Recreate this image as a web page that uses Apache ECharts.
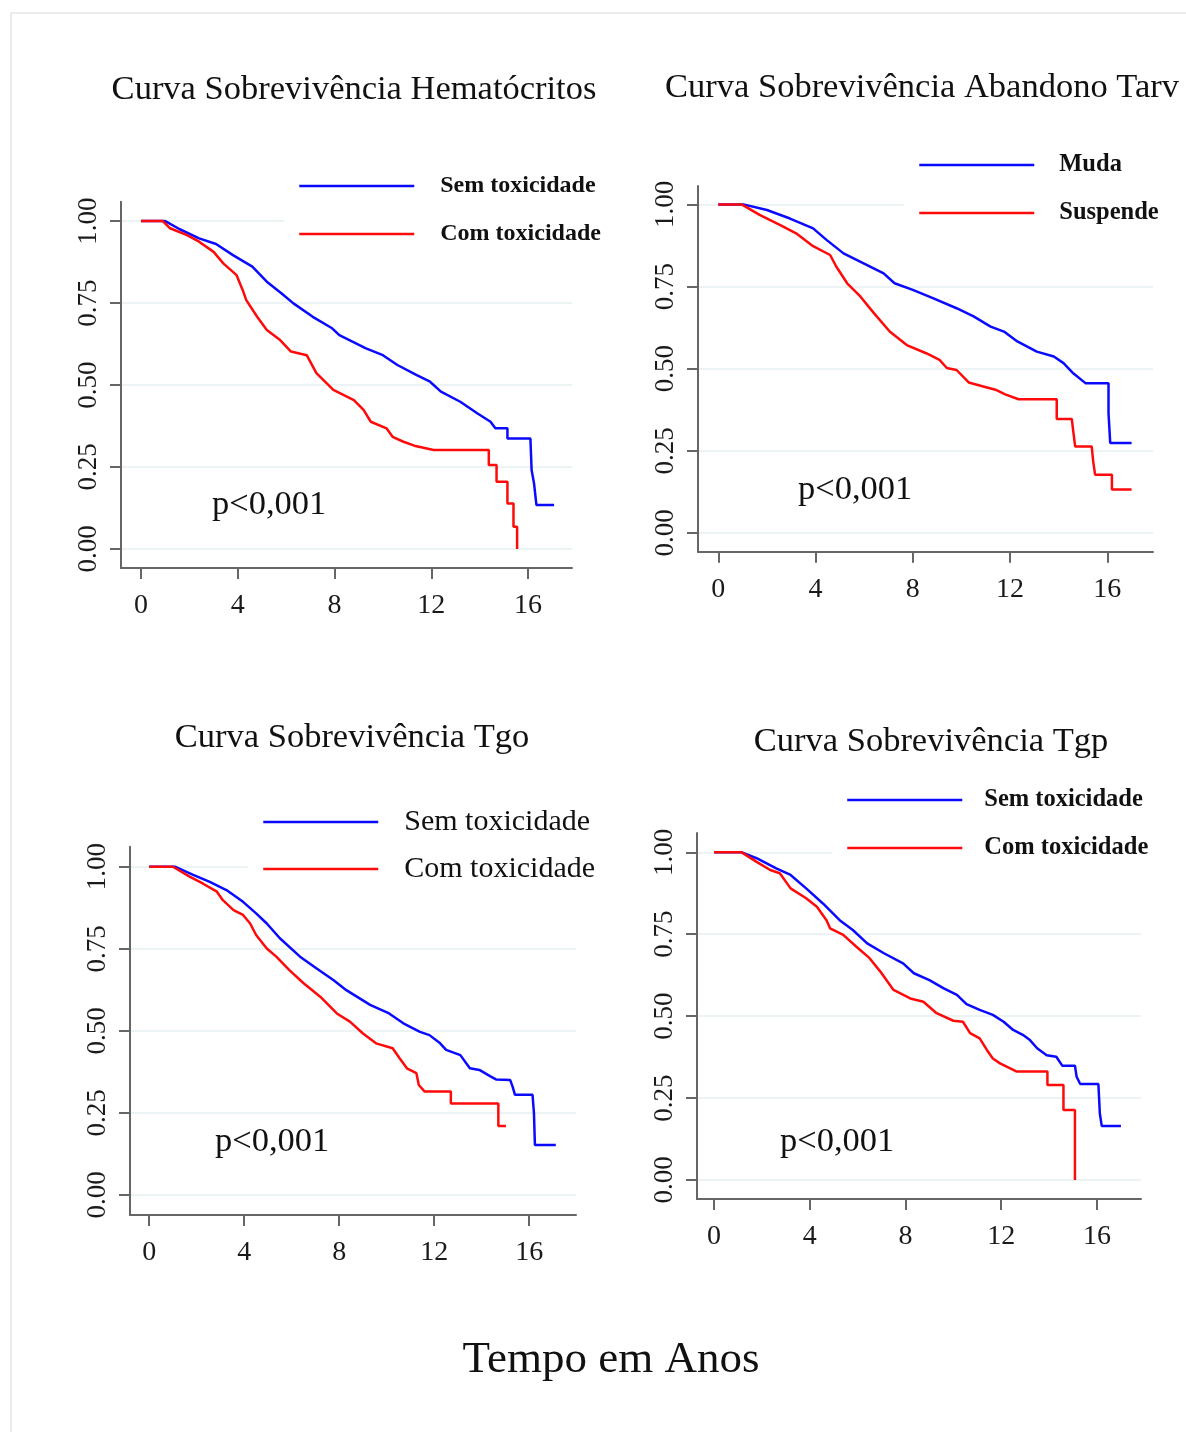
<!DOCTYPE html>
<html><head><meta charset="utf-8">
<script src="https://cdn.jsdelivr.net/npm/echarts@6/dist/echarts.min.js"></script>
<style>html,body{margin:0;padding:0;background:#fff}#c{width:1186px;height:1432px}</style>
</head><body><div id="c"></div>
<script>
// ---------- data ----------
const xTicks = [0, 4, 8, 12, 16];
const yTicks = [0, 0.25, 0.5, 0.75, 1];
const panelTitles = ['Curva Sobrevivência Hematócritos', 'Curva Sobrevivência Abandono Tarv', 'Curva Sobrevivência Tgo', 'Curva Sobrevivência Tgp'];
const legendNames = [['Sem toxicidade', 'Com toxicidade'], ['Muda', 'Suspende'], ['Sem toxicidade', 'Com toxicidade'], ['Sem toxicidade', 'Com toxicidade']];
const pValueText = 'p<0,001';
const xAxisTitle = 'Tempo em Anos';

// [years, survival]
const hematocritosSem = [[0,1],[1.0,1],[1.6,0.975],[2.4,0.947],[3.1,0.93],[3.8,0.896],[4.6,0.861],[5.2,0.815],[5.8,0.78],[6.3,0.749],[7.1,0.708],[7.9,0.673],[8.2,0.652],[9.3,0.612],[10.0,0.591],[10.6,0.561],[11.4,0.53],[11.95,0.51],[12.4,0.48],[13.2,0.449],[13.9,0.414],[14.45,0.388],[14.65,0.368],[15.15,0.368],[15.15,0.337],[16.1,0.337],[16.15,0.241],[16.25,0.2],[16.35,0.134],[17.08,0.134]];
const hematocritosCom = [[0,1],[0.9,1],[1.2,0.978],[1.9,0.957],[2.4,0.937],[3.0,0.906],[3.4,0.871],[3.95,0.835],[4.2,0.79],[4.35,0.759],[4.8,0.708],[5.2,0.668],[5.75,0.637],[6.2,0.602],[6.85,0.591],[7.25,0.536],[7.95,0.485],[8.8,0.454],[9.2,0.424],[9.5,0.388],[10.15,0.368],[10.4,0.342],[10.85,0.327],[11.3,0.315],[12.1,0.302],[14.38,0.302],[14.38,0.256],[14.7,0.256],[14.7,0.205],[15.15,0.205],[15.15,0.139],[15.4,0.139],[15.4,0.068],[15.55,0.068],[15.55,0]];
const abandonoMuda = [[0,1],[1.03,1],[2.0,0.983],[2.95,0.957],[3.9,0.927],[4.45,0.892],[5.15,0.851],[6.1,0.816],[6.8,0.79],[7.25,0.76],[8.0,0.74],[8.85,0.714],[9.8,0.684],[10.5,0.659],[11.2,0.628],[11.75,0.613],[12.3,0.583],[13.1,0.552],[13.8,0.537],[14.2,0.517],[14.6,0.486],[15.1,0.456],[16.05,0.456],[16.05,0.365],[16.12,0.274],[17.0,0.274]];
const abandonoSuspende = [[0,1],[0.96,1],[1.7,0.968],[2.55,0.937],[3.2,0.912],[3.9,0.873],[4.6,0.846],[4.85,0.811],[5.3,0.76],[5.85,0.719],[6.4,0.669],[7.05,0.613],[7.75,0.572],[8.55,0.547],[9.1,0.527],[9.4,0.502],[9.8,0.496],[10.3,0.458],[10.9,0.446],[11.4,0.436],[11.8,0.422],[12.35,0.407],[13.92,0.407],[13.92,0.347],[14.54,0.347],[14.6,0.309],[14.68,0.263],[15.36,0.263],[15.42,0.218],[15.5,0.177],[16.19,0.177],[16.19,0.132],[17.0,0.132]];
const tgoSem = [[0,1],[1.08,1],[1.85,0.975],[2.55,0.954],[3.25,0.929],[3.95,0.893],[4.5,0.858],[4.95,0.827],[5.5,0.782],[6.35,0.726],[7.05,0.69],[7.75,0.655],[8.3,0.624],[9.3,0.579],[10.1,0.553],[10.7,0.523],[11.4,0.497],[11.8,0.487],[12.25,0.462],[12.5,0.442],[13.1,0.426],[13.5,0.386],[13.9,0.381],[14.35,0.362],[14.6,0.352],[15.2,0.35],[15.3,0.33],[15.4,0.305],[16.14,0.305],[16.2,0.249],[16.24,0.152],[17.12,0.152]];
const tgoCom = [[0,1],[1.0,1],[1.7,0.97],[2.25,0.949],[2.85,0.924],[3.1,0.898],[3.55,0.868],[3.95,0.853],[4.25,0.827],[4.5,0.792],[4.95,0.751],[5.35,0.726],[5.9,0.685],[6.5,0.645],[7.2,0.604],[7.9,0.553],[8.45,0.528],[9.0,0.492],[9.55,0.462],[10.25,0.447],[10.55,0.416],[10.85,0.386],[11.25,0.371],[11.35,0.335],[11.6,0.315],[12.7,0.315],[12.7,0.279],[14.7,0.279],[14.7,0.21],[15.02,0.21]];
const tgpSem = [[0,1],[1.16,1],[1.78,0.982],[2.6,0.951],[3.2,0.931],[3.85,0.89],[4.55,0.844],[5.25,0.793],[5.8,0.763],[6.4,0.722],[7.1,0.692],[7.9,0.661],[8.35,0.631],[9.0,0.61],[9.6,0.585],[10.15,0.565],[10.55,0.537],[11.1,0.519],[11.65,0.504],[12.1,0.483],[12.5,0.458],[12.9,0.443],[13.2,0.427],[13.5,0.402],[13.9,0.381],[14.3,0.376],[14.55,0.349],[15.08,0.349],[15.15,0.315],[15.3,0.293],[16.06,0.293],[16.12,0.203],[16.2,0.165],[17.0,0.165]];
const tgpCom = [[0,1],[1.16,1],[1.78,0.971],[2.35,0.946],[2.75,0.936],[3.2,0.89],[3.85,0.86],[4.3,0.834],[4.7,0.793],[4.85,0.768],[5.4,0.748],[5.95,0.712],[6.5,0.677],[6.95,0.636],[7.5,0.58],[8.2,0.554],[8.75,0.544],[9.3,0.509],[10.0,0.486],[10.4,0.483],[10.7,0.448],[11.1,0.432],[11.4,0.397],[11.65,0.371],[11.95,0.356],[12.65,0.331],[13.93,0.331],[13.93,0.29],[14.6,0.29],[14.6,0.214],[15.08,0.214],[15.08,0]];

const panelSeries = [[hematocritosSem, hematocritosCom], [abandonoMuda, abandonoSuspende], [tgoSem, tgoCom], [tgpSem, tgpCom]];

// ---------- layout / style ----------
const SERIF = "'Liberation Serif', 'Times New Roman', serif";
const BLUE = '#0a0aff', RED = '#ff0a0a';
const layout = [
  {x0:121, top:201.7, bottom:568, right:572, xmin:-0.83, xmax:17.82, ymin:-0.058, ymax:1.059,
   title:[354, 90], p:[212, 505], leg:{left:284, top:166, gap:18, fs:24, bold:true, pad:21}},
  {x0:698, top:186, bottom:551.7, right:1153, xmin:-0.835, xmax:17.88, ymin:-0.057, ymax:1.056,
   title:[922, 88], p:[798, 490], leg:{left:904, top:145, gap:18, fs:24.5, bold:true, pad:20}},
  {x0:130, top:846.7, bottom:1215, right:576, xmin:-0.81, xmax:17.97, ymin:-0.061, ymax:1.061,
   title:[352, 738], p:[215, 1142], leg:{left:248, top:802, gap:17, fs:30, bold:false, pad:21}},
  {x0:697, top:833, bottom:1199, right:1141, xmin:-0.71, xmax:17.84, ymin:-0.058, ymax:1.059,
   title:[931, 742], p:[780, 1142], leg:{left:832, top:780, gap:18, fs:24.5, bold:true, pad:17}}
];

const axisLineStyle = {color:'#666', width:2};
const grid = [], xAxis = [], yAxis = [], series = [], legend = [], graphic = [];

graphic.push({type:'rect', shape:{x:11, y:13, width:1190, height:1440}, style:{fill:'none', stroke:'#ececec', lineWidth:2}, z:0});

layout.forEach((L, i) => {
  grid.push({left:L.x0, top:L.top, width:L.right - L.x0, height:L.bottom - L.top, containLabel:false, outerBoundsMode:'none'});
  xAxis.push({type:'value', gridIndex:i, min:L.xmin, max:L.xmax,
    axisLine:{show:true, onZero:false, lineStyle:axisLineStyle},
    axisTick:{show:true, length:11, customValues:xTicks, lineStyle:axisLineStyle},
    axisLabel:{customValues:xTicks, margin:24, fontSize:28, fontFamily:SERIF, color:'#1a1a1a'},
    splitLine:{show:false}});
  yAxis.push({type:'value', gridIndex:i, min:L.ymin, max:L.ymax,
    axisLine:{show:true, onZero:false, lineStyle:axisLineStyle},
    axisTick:{show:true, length:11, customValues:yTicks, lineStyle:axisLineStyle},
    axisLabel:{customValues:yTicks, rotate:90, margin:19, fontSize:27, fontFamily:SERIF, color:'#1a1a1a',
      formatter: v => v.toFixed(2)},
    splitLine:{show:true, lineStyle:{color:'#e6eff0', width:1.5}}});
  const names = legendNames[i];
  [BLUE, RED].forEach((c, k) => {
    series.push({type:'line', name:names[k], xAxisIndex:i, yAxisIndex:i, data:panelSeries[i][k],
      symbol:'none', showSymbol:false, animation:false, z:3 + k,
      lineStyle:{color:c, width:2.5}, itemStyle:{color:c}});
  });
  legend.push({orient:'vertical', left:L.leg.left, top:L.leg.top, data:names,
    itemWidth:115, itemHeight:14, itemGap:L.leg.gap, padding:[5, 10, 5, 14],
    backgroundColor:'#fff', selectedMode:false,
    itemStyle:{opacity:0}, lineStyle:{width:2.5},
    textStyle:{fontFamily:SERIF, fontSize:L.leg.fs, fontWeight:L.leg.bold ? 'bold' : 'normal', color:'#111', lineHeight:30, padding:[0, 0, 0, L.leg.pad]}});
  graphic.push({type:'text', x:L.title[0], y:L.title[1], z:10,
    style:{text:panelTitles[i], font:'34.5px ' + SERIF, fill:'#111', align:'center', verticalAlign:'middle', textAlign:'center', textVerticalAlign:'middle'}});
  graphic.push({type:'text', x:L.p[0], y:L.p[1], z:10,
    style:{text:pValueText, font:'34.5px ' + SERIF, fill:'#111', align:'left', verticalAlign:'middle', textAlign:'left', textVerticalAlign:'middle'}});
});

graphic.push({type:'text', x:611, y:1360, z:10,
  style:{text:xAxisTitle, font:'45px ' + SERIF, fill:'#111', align:'center', verticalAlign:'middle', textAlign:'center', textVerticalAlign:'middle'}});

const chart = echarts.init(document.getElementById('c'), null, {renderer:'canvas'});
chart.setOption({backgroundColor:'#fff', animation:false, grid, xAxis, yAxis, series, legend, graphic});
</script></body></html>
